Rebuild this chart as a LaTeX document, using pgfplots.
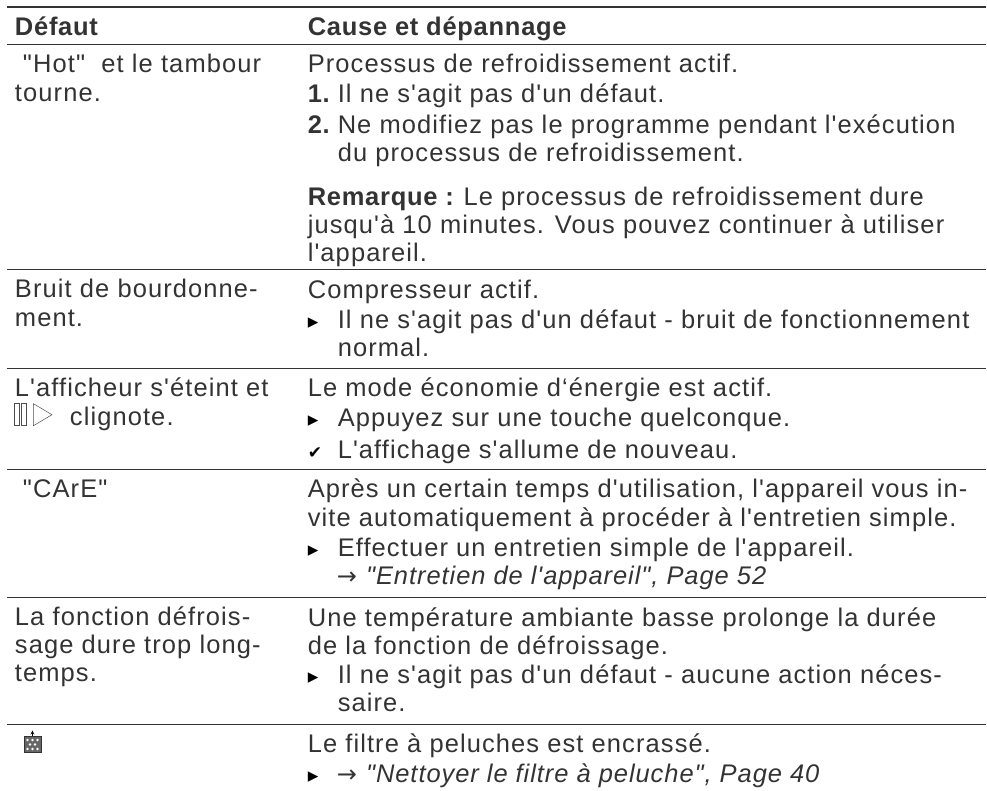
\documentclass[border=0pt]{standalone}
\usepackage{pgfplots}
\pgfplotsset{compat=1.18}
\usepackage{fontspec}
\newfontfamily\mainf[LetterSpace=4.3,BoldFeatures={LetterSpace=2.9},ItalicFeatures={LetterSpace=3.7}]{Liberation Sans}
\newfontfamily\sym{DejaVu Sans}
\definecolor{txt}{HTML}{333333}
\definecolor{rul}{HTML}{333333}
\newcommand{\T}[3]{\node[anchor=base west,inner sep=0pt,outer sep=0pt,text=txt,font=\fontsize{25.5}{27}\mainf] at (axis cs:#1,#2) {#3};}
\newcommand{\B}[2]{\node[anchor=base west,inner sep=0pt,outer sep=0pt,text=black,font=\fontsize{21}{22}\sym] at (axis cs:#1,#2) {▸};}
\newcommand{\C}[2]{\node[anchor=base west,inner sep=0pt,outer sep=0pt,text=black,font=\fontsize{17}{18}\sym] at (axis cs:#1,#2) {✔};}
\newcommand{\Ar}{{\fontsize{24}{26}\sym →}}
\begin{document}
\begin{tikzpicture}
\begin{axis}[scale only axis,width=987pt,height=791pt,xmin=0,xmax=987,ymin=0,ymax=791,y dir=reverse,axis lines=none,clip=false]
\path (axis cs:0,0) rectangle (axis cs:987,791);
% rules
\addplot[rul,line width=1.4pt,forget plot] coordinates {(7,7)(987,7)};
\addplot[rul,line width=1.4pt,forget plot] coordinates {(7,44.5)(987,44.5)};
\addplot[rul,line width=1.3pt,forget plot] coordinates {(7,270)(987,270)};
\addplot[rul,line width=1.3pt,forget plot] coordinates {(7,369)(987,369)};
\addplot[rul,line width=1.3pt,forget plot] coordinates {(7,470)(987,470)};
\addplot[rul,line width=1.3pt,forget plot] coordinates {(7,598)(987,598)};
\addplot[rul,line width=1.3pt,forget plot] coordinates {(7,725)(987,725)};
% header
\T{15}{36}{\bfseries Défaut}
\T{308}{36}{\bfseries Cause et dépannage}
% row 1
\T{23}{73}{"Hot"\ \ et le tambour}
\T{15}{102}{tourne.}
\T{308}{73}{Processus de refroidissement actif.}
\T{308}{103}{\textbf{1.}}
\T{338}{103}{Il ne s'agit pas d'un défaut.}
\T{308}{134}{\textbf{2.}}
\T{338}{134}{Ne modifiez pas le programme pendant l'exécution}
\T{338}{162}{du processus de refroidissement.}
\T{308}{205.5}{\textbf{Remarque :}\hspace{-2pt} Le processus de refroidissement dure}
\T{308}{233.5}{jusqu'à 10 minutes. Vous pouvez continuer à utiliser}
\T{308}{262}{l'appareil.}
% row 2
\T{15}{298}{Bruit de bourdonne-}
\T{15}{327}{ment.}
\T{308}{299}{Compresseur actif.}
\B{308}{329}
\T{338}{329}{Il ne s'agit pas d'un défaut - bruit de fonctionnement}
\T{338}{357}{normal.}
% row 3
\T{15}{397}{L'afficheur s'éteint et}
\T{70}{426}{clignote.}
\draw[black!70,line width=0.5pt] (axis cs:14,404) rectangle (axis cs:19,426);
\draw[black!70,line width=0.5pt] (axis cs:21,404) rectangle (axis cs:26,426);
\draw[black!70,line width=0.5pt] (axis cs:33.5,404) -- (axis cs:52,415) -- (axis cs:33.5,426) -- cycle;
\T{308}{397}{Le mode économie d‘énergie est actif.}
\B{308}{427}
\T{338}{427}{Appuyez sur une touche quelconque.}
\C{308}{459}
\T{338}{459}{L'affichage s'allume de nouveau.}
% row 4
\T{23}{498}{"CArE"}
\T{308}{498}{Après un certain temps d'utilisation, l'appareil vous in-}
\T{308}{527}{vite automatiquement à procéder à l'entretien simple.}
\B{308}{557}
\T{338}{557}{Effectuer un entretien simple de l'appareil.}
\T{337}{585}{\Ar\hspace{1pt} \textit{"Entretien de l'appareil", Page 52}}
% row 5
\T{15}{626}{La fonction défrois-}
\T{15}{654}{sage dure trop long-}
\T{15}{682}{temps.}
\T{308}{627}{Une température ambiante basse prolonge la durée}
\T{308}{655}{de la fonction de défroissage.}
\B{308}{684}
\T{338}{684}{Il ne s'agit pas d'un défaut - aucune action néces-}
\T{338}{712}{saire.}
% row 6
\draw[black!80,fill=black!60,line width=0.8pt] (axis cs:24,737) rectangle (axis cs:41,753);
\fill[white] (axis cs:27.5,740.5) circle (1.4pt) (axis cs:32.5,740.5) circle (1.4pt) (axis cs:37.5,740.5) circle (1.4pt) (axis cs:30,745) circle (1.4pt) (axis cs:35,745) circle (1.4pt) (axis cs:27.5,749.5) circle (1.4pt) (axis cs:32.5,749.5) circle (1.4pt) (axis cs:37.5,749.5) circle (1.4pt);
\draw[black,line width=0.8pt,->,>=stealth] (axis cs:32.5,737) -- (axis cs:32.5,731);
\T{308}{753}{Le filtre à peluches est encrassé.}
\B{308}{783}
\T{337}{783}{\Ar\hspace{1pt} \textit{"Nettoyer le filtre à peluche", Page 40}}
\end{axis}
\end{tikzpicture}
\end{document}
